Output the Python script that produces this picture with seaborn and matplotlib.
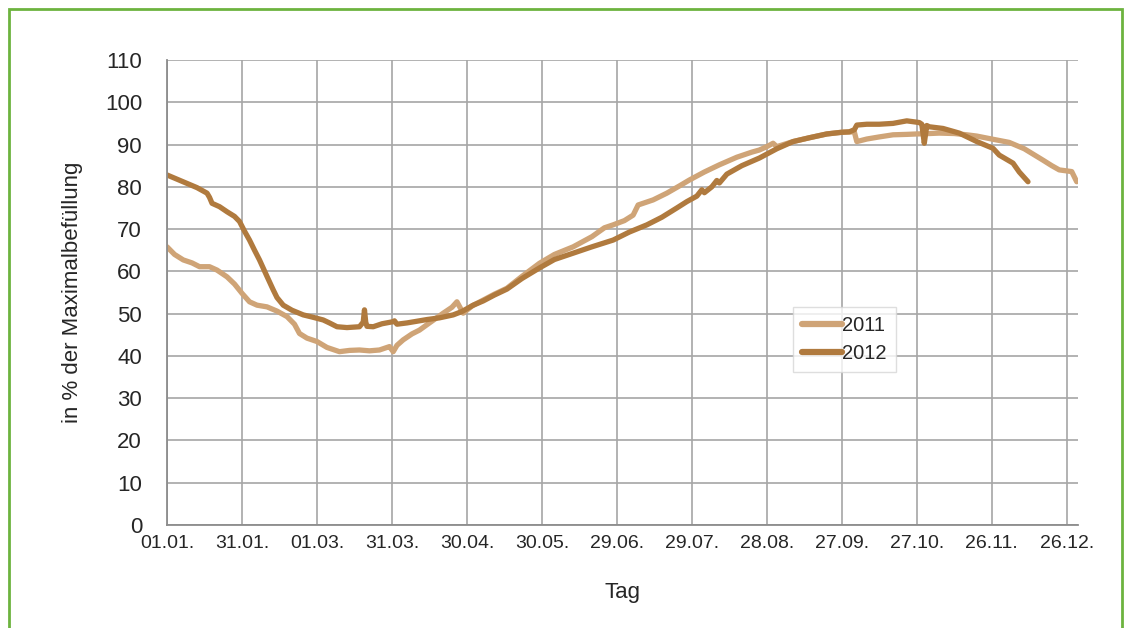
import matplotlib as mlp
mlp.use('Agg')
import matplotlib.pyplot as plt
import seaborn as sns
import pandas as pd
from matplotlib.patches import Rectangle

# day of year / filling level in %
days_2011 = [0, 3, 6.5, 10, 13, 17, 20, 24, 27, 30, 33, 36, 40, 44, 48, 51, 53, 56, 60, 64,
             69, 73, 77, 81, 85, 88, 89, 90.5, 92, 94.5, 98, 101, 105, 110.5, 114, 116, 118.5,
             122, 126.5, 131, 136, 142, 149, 155, 162.5, 170, 175, 178.5, 183, 186.5, 188.5,
             194.5, 200, 205, 209, 215, 221, 228, 234, 237, 240, 242.5, 244, 250.5, 257, 264,
             270, 275, 276, 280, 285, 290.5, 296, 300, 305, 309, 315, 320, 324, 330, 337, 343,
             350.5, 354, 357, 362, 364]
vals_2011 = [65.8, 64.0, 62.7, 62.0, 61.1, 61.1, 60.3, 58.7, 57.0, 54.8, 52.8, 52.0, 51.6, 50.6,
             49.3, 47.5, 45.3, 44.2, 43.4, 42.0, 41.0, 41.3, 41.4, 41.2, 41.4, 42.0, 42.2, 41.0,
             42.5, 43.8, 45.2, 46.1, 47.8, 50.1, 51.5, 52.8, 50.1, 51.8, 53.2, 54.6, 56.0, 58.8,
             61.9, 64.0, 65.8, 68.2, 70.3, 71.0, 72.0, 73.3, 75.7, 76.9, 78.5, 80.2, 81.6, 83.5,
             85.2, 87.0, 88.2, 88.7, 89.5, 90.3, 89.5, 90.7, 91.6, 92.5, 92.9, 93.0, 90.7, 91.3,
             91.8, 92.3, 92.4, 92.5, 92.6, 92.7, 92.6, 92.3, 92.0, 91.3, 90.5, 89.0, 86.3, 85.0,
             84.0, 83.6, 81.2]

days_2012 = [0, 4, 8, 12, 16, 17, 18, 21, 24, 27, 29, 31, 33, 35, 37, 40, 42.5, 44, 46.5, 50,
             54.5, 58, 62.5, 65, 68, 72, 77, 78.5, 79, 79.5, 80, 82.5, 86, 90.5, 91, 92, 96, 100,
             104, 109, 114.5, 118, 122.5, 126.5, 131, 136, 142, 149, 155, 162.5, 170, 178.5, 185,
             192, 198, 204, 208, 212, 214, 215, 218, 220, 221, 224, 230, 237, 244, 250.5, 257,
             264, 270, 273, 275, 276, 280, 285, 290.5, 296, 301, 302, 303, 304, 305, 310.5, 317,
             324, 330.5, 333, 338.5, 341, 344.5]
vals_2012 = [82.8, 81.8, 80.8, 79.8, 78.5, 77.5, 76.1, 75.3, 74.1, 73.0, 71.8, 69.5, 67.4, 65.0,
             62.7, 58.8, 55.6, 53.8, 52.0, 50.8, 49.7, 49.2, 48.5, 47.8, 46.9, 46.7, 46.9, 48.0,
             50.9, 48.0, 47.0, 46.9, 47.6, 48.1, 48.3, 47.5, 47.8, 48.2, 48.6, 49.0, 49.7, 50.5,
             52.0, 53.0, 54.4, 55.8, 58.3, 60.8, 62.8, 64.3, 65.8, 67.4, 69.3, 71.0, 72.8, 75.0,
             76.5, 77.8, 79.3, 78.6, 80.0, 81.5, 80.9, 83.0, 85.0, 86.8, 89.0, 90.7, 91.6, 92.5,
             92.9, 93.0, 93.5, 94.6, 94.8, 94.8, 95.0, 95.6, 95.2, 94.8, 90.3, 94.5, 94.2, 93.8,
             92.7, 90.7, 89.1, 87.5, 85.6, 83.5, 81.2]

tick_days = [0, 30, 60, 90, 120, 150, 180, 210, 240, 270, 300, 330, 360]
tick_labels = ['01.01.', '31.01.', '01.03.', '31.03.', '30.04.', '30.05.', '29.06.',
               '29.07.', '28.08.', '27.09.', '27.10.', '26.11.', '26.12.']

df = pd.concat([
    pd.DataFrame({'Tag': days_2011, 'Wert': vals_2011, 'Jahr': '2011'}),
    pd.DataFrame({'Tag': days_2012, 'Wert': vals_2012, 'Jahr': '2012'}),
])

sns.set_style('white')
plt.rcParams['font.family'] = ['Liberation Sans', 'DejaVu Sans']

fig = plt.figure(figsize=(11.34, 6.28), dpi=100)
ax = fig.add_axes([0.1473, 0.164, 0.8033, 0.7405])

sns.lineplot(data=df, x='Tag', y='Wert', hue='Jahr', sort=False, estimator=None,
             palette={'2011': '#CFA477', '2012': '#B07A3E'}, linewidth=3.8, ax=ax)

ax.set_xlim(0, 364.5)
ax.set_ylim(0, 110)
ax.set_yticks(range(0, 111, 10))
ax.set_xticks(tick_days)
ax.set_xticklabels(tick_labels)
ax.grid(True, color='#A6A6A6', linewidth=1.2)
ax.set_axisbelow(True)
for s in ['top', 'right']:
    ax.spines[s].set_visible(False)
for s in ['left', 'bottom']:
    ax.spines[s].set_color('#8C8C8C')
    ax.spines[s].set_linewidth(1.3)
ax.tick_params(axis='y', labelsize=16, length=0, pad=18)
ax.tick_params(axis='x', labelsize=14, length=0, pad=7)
ax.set_xlabel('Tag', fontsize=16, labelpad=22)
ax.set_ylabel('in % der Maximalbefüllung', fontsize=16, labelpad=16)

leg = ax.legend(loc='upper left', bbox_to_anchor=(0.687, 0.469), fontsize=14.5,
                fancybox=False, frameon=True, handlelength=2.0, handletextpad=0.0,
                borderaxespad=0, labelspacing=0.45, borderpad=0.45)
leg.get_frame().set_edgecolor('#D6D6D6')
leg.get_frame().set_linewidth(1)
for line in leg.get_lines():
    line.set_linewidth(4.5)
    line.set_solid_capstyle('round')

fig.patches.append(Rectangle((9 / 1134, -0.1), 1113 / 1134, 1.1 - 9 / 628,
                             transform=fig.transFigure, fill=False,
                             edgecolor='#6DB33F', linewidth=2))

fig.savefig('out.png', dpi=100)
